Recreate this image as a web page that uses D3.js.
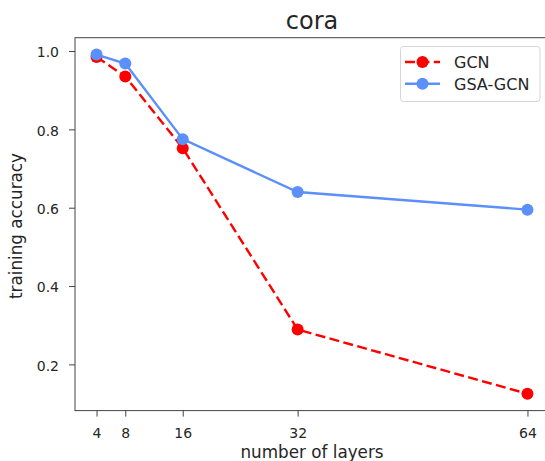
<!DOCTYPE html>
<html>
<head>
<meta charset="utf-8">
<script src="https://cdn.jsdelivr.net/npm/d3@7"></script>
<style>
  html, body { margin: 0; padding: 0; background: #fff; overflow: hidden; }
  svg { display: block; }
  text { font-family: "DejaVu Sans", sans-serif; fill: #262626; }
</style>
</head>
<body>
<svg id="chart" width="545" height="461"></svg>
<script>
const layers = [4, 8, 16, 32, 64];
const gcn = [0.985, 0.935, 0.752, 0.289, 0.125];
const gsaGcn = [0.991, 0.968, 0.775, 0.640, 0.595];
const xTicks = [4, 8, 16, 32, 64];
const yTicks = [0.2, 0.4, 0.6, 0.8, 1.0];
const seriesNames = ["GCN", "GSA-GCN"];
const seriesColors = ["#ff0000", "#5b8ff9"];

const svg = d3.select("#chart");
const mLeft = 75, mRight = 549, mTop = 37.7, mBottom = 410.6;

const x = d3.scaleLinear().domain([1, 67]).range([mLeft, mRight]);
const y = d3.scaleLinear().domain([0.082, 1.034]).range([mBottom, mTop]);

// axes
const xAxis = d3.axisBottom(x).tickValues(xTicks).tickSize(6).tickPadding(11).tickFormat(d3.format("d"));
const yAxis = d3.axisLeft(y).tickValues(yTicks).tickSize(6).tickPadding(10).tickFormat(d3.format(".1f"));

const gx = svg.append("g").attr("transform", `translate(0,${mBottom})`).call(xAxis);
const gy = svg.append("g").attr("transform", `translate(${mLeft},0)`).call(yAxis);
[gx, gy].forEach(g => {
  g.select(".domain").remove();
  g.selectAll(".tick line").attr("stroke", "#444").attr("stroke-width", 1);
  g.selectAll(".tick text").attr("font-size", 14).attr("fill", "#262626")
    .attr("font-family", "DejaVu Sans, sans-serif");
});
gy.selectAll(".tick text").attr("dy", "0.42em");

// spines
svg.append("rect").attr("x", mLeft).attr("y", mTop)
  .attr("width", mRight - mLeft).attr("height", mBottom - mTop)
  .attr("fill", "none").attr("stroke", "#444").attr("stroke-width", 1);

const series = [gcn, gsaGcn];
const line = d3.line().x((d, i) => x(layers[i])).y(d => y(d));

series.forEach((vals, si) => {
  svg.append("path").datum(vals)
    .attr("d", line)
    .attr("fill", "none")
    .attr("stroke", seriesColors[si])
    .attr("stroke-width", 2.4)
    .attr("stroke-dasharray", si === 0 ? "10,4.4" : null);
  svg.selectAll(null).data(vals).enter().append("circle")
    .attr("cx", (d, i) => x(layers[i]))
    .attr("cy", d => y(d))
    .attr("r", 6)
    .attr("fill", seriesColors[si]);
});

// title and labels
svg.append("text").attr("x", (mLeft + mRight) / 2).attr("y", 28.5)
  .attr("text-anchor", "middle").attr("font-size", 24).text("cora");
svg.append("text").attr("x", (mLeft + mRight) / 2).attr("y", 458)
  .attr("text-anchor", "middle").attr("font-size", 16.8).text("number of layers");
svg.append("text").attr("transform", `translate(22,226) rotate(-90)`)
  .attr("text-anchor", "middle").attr("font-size", 16.8).text("training accuracy");

// legend
const lg = svg.append("g");
lg.append("rect").attr("x", 400.5).attr("y", 46.5).attr("width", 139.5).attr("height", 55)
  .attr("rx", 3).attr("fill", "#fff").attr("fill-opacity", 0.8)
  .attr("stroke", "#d5d5d5").attr("stroke-width", 1);
seriesNames.forEach((name, i) => {
  const cy = 62 + i * 21.7;
  lg.append("line").attr("x1", 405).attr("x2", 440).attr("y1", cy).attr("y2", cy)
    .attr("stroke", seriesColors[i]).attr("stroke-width", 2.4)
    .attr("stroke-dasharray", i === 0 ? "10,4.4" : null);
  lg.append("circle").attr("cx", 422.5).attr("cy", cy).attr("r", 6).attr("fill", seriesColors[i]);
  lg.append("text").attr("x", 454).attr("y", cy + 6).attr("font-size", 16).text(name);
});
</script>
</body>
</html>
